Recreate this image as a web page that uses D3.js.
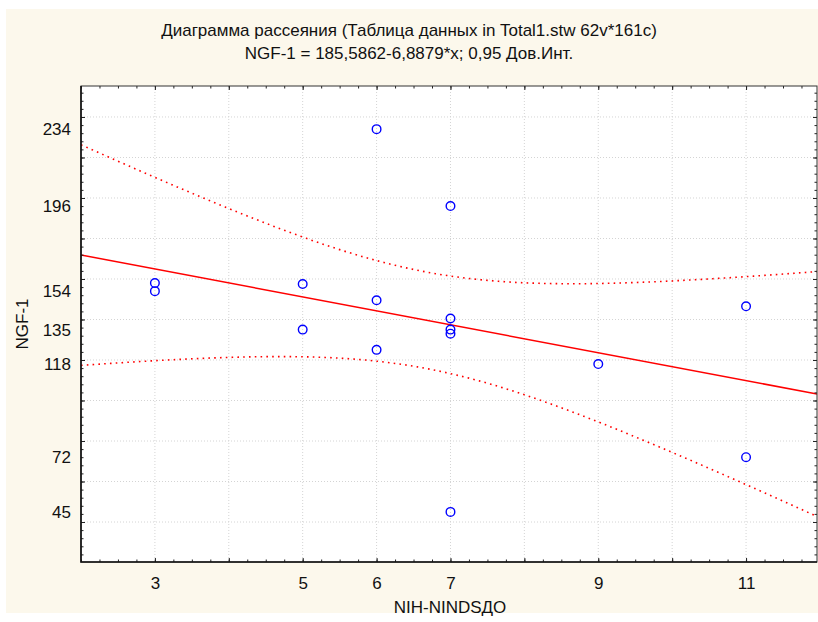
<!DOCTYPE html>
<html>
<head>
<meta charset="utf-8">
<script src="https://cdn.jsdelivr.net/npm/d3@7"></script>
<style>
  body { margin: 0; background: #fff; }
  svg { display: block; font-family: "Liberation Sans", Arial, sans-serif; }
</style>
</head>
<body>
<svg id="chart" width="818" height="622"></svg>
<script>
// chart data
const nihScore = [3, 3, 5, 5, 6, 6, 6, 7, 7, 7, 7, 7, 9, 11, 11];
const ngfValue = [158, 154, 157.5, 135, 234, 149.5, 125, 196, 140.5, 135, 133, 45, 118, 146.5, 72];
const yTickLabels = [234, 196, 154, 135, 118, 72, 45];
const xTickLabels = [3, 5, 6, 7, 9, 11];
const intercept = 185.5862;
const slope = -6.8879;
const tCrit = 2.1604; // t(0.975, df = 13)

const titleLines = [
  'Диаграмма рассеяния (Таблица данных in Total1.stw 62v*161c)',
  'NGF-1 = 185,5862-6,8879*x; 0,95 Дов.Инт.'
];

const FONT = 17;
const svg = d3.select('#chart');
const plot = { left: 81, right: 817, top: 86, bottom: 562 };

// cream panel behind everything
svg.append('rect')
  .attr('x', 6).attr('y', 9)
  .attr('width', 812).attr('height', 604)
  .attr('fill', '#fcf8ec');

svg.append('rect')
  .attr('x', plot.left).attr('y', plot.top)
  .attr('width', plot.right - plot.left).attr('height', plot.bottom - plot.top)
  .attr('fill', '#fff');

const x = d3.scaleLinear().domain([2, 11.96]).range([plot.left, plot.right]);
const y = d3.scaleLinear().domain([20.25, 255.3]).range([plot.bottom, plot.top]);

const xMajor = d3.range(3, 12, 1);
const xMinor = d3.range(2, 11.96, 0.25);
const yMajor = d3.range(40, 256, 20);
const yMinor = d3.range(24, 256, 4);

// dotted grid
const grid = svg.append('g').attr('stroke', '#d4d4d4').attr('stroke-dasharray', '1,2');
grid.selectAll('.gx').data(xMajor).join('line')
  .attr('x1', d => x(d)).attr('x2', d => x(d))
  .attr('y1', plot.top).attr('y2', plot.bottom);
grid.selectAll('.gy').data(yMajor).join('line')
  .attr('x1', plot.left).attr('x2', plot.right)
  .attr('y1', d => y(d)).attr('y2', d => y(d));

// clip for fitted lines
svg.append('clipPath').attr('id', 'clip')
  .append('rect')
  .attr('x', plot.left).attr('y', plot.top)
  .attr('width', plot.right - plot.left).attr('height', plot.bottom - plot.top);

// regression line and 95% confidence band computed from the points
const n = nihScore.length;
const xMean = d3.mean(nihScore);
const sxx = d3.sum(nihScore, v => (v - xMean) ** 2);
const sse = d3.sum(nihScore, (v, i) => (ngfValue[i] - (intercept + slope * v)) ** 2);
const s = Math.sqrt(sse / (n - 2));
const band = v => tCrit * s * Math.sqrt(1 / n + (v - xMean) ** 2 / sxx);

const xs = d3.range(x.domain()[0], x.domain()[1] + 0.05, 0.05);
const fitLine = d3.line().x(d => x(d[0])).y(d => y(d[1]));

const fits = svg.append('g').attr('clip-path', 'url(#clip)').attr('fill', 'none').attr('stroke', '#ff0000');
fits.append('path')
  .attr('d', fitLine(x.domain().map(v => [v, intercept + slope * v])))
  .attr('stroke-width', 1.5);
fits.append('path')
  .attr('d', fitLine(xs.map(v => [v, intercept + slope * v + band(v)])))
  .attr('stroke-width', 1.6).attr('stroke-dasharray', '1.6,4.2');
fits.append('path')
  .attr('d', fitLine(xs.map(v => [v, intercept + slope * v - band(v)])))
  .attr('stroke-width', 1.6).attr('stroke-dasharray', '1.6,4.2');

// points
svg.append('g').selectAll('circle').data(nihScore).join('circle')
  .attr('cx', d => x(d))
  .attr('cy', (d, i) => y(ngfValue[i]))
  .attr('r', 4.3)
  .attr('fill', 'none')
  .attr('stroke', '#0000ff')
  .attr('stroke-width', 1.4);

// frame ticks (pointing inward) on all four sides
function tickAxis(makeAxis, scale, transform, major, minor) {
  [[major, 4], [minor, 2.5]].forEach(([vals, len]) => {
    const g = svg.append('g').attr('transform', transform)
      .call(makeAxis(scale).tickValues(vals).tickSize(len).tickFormat(''));
    g.select('.domain').remove();
    g.selectAll('.tick line').attr('stroke', '#222');
  });
}
tickAxis(d3.axisTop, x, `translate(0,${plot.bottom})`, xMajor, xMinor);
tickAxis(d3.axisBottom, x, `translate(0,${plot.top})`, xMajor, xMinor);
tickAxis(d3.axisRight, y, `translate(${plot.left},0)`, yMajor, yMinor);
tickAxis(d3.axisLeft, y, `translate(${plot.right},0)`, yMajor, yMinor);

// frame
svg.append('rect')
  .attr('x', plot.left).attr('y', plot.top)
  .attr('width', plot.right - plot.left).attr('height', plot.bottom - plot.top)
  .attr('fill', 'none').attr('stroke', '#333').attr('stroke-width', 1);
svg.append('path')
  .attr('d', `M${plot.left},${plot.top}V${plot.bottom}H${plot.right}`)
  .attr('fill', 'none').attr('stroke', '#111').attr('stroke-width', 1.6);

// tick labels
const yLab = svg.append('g')
  .attr('transform', `translate(${plot.left - 10},0)`)
  .call(d3.axisLeft(y).tickValues(yTickLabels).tickSize(0).tickPadding(0).tickFormat(d3.format('d')));
yLab.select('.domain').remove();
yLab.selectAll('text').attr('font-size', FONT).attr('fill', '#111').attr('font-family', 'Liberation Sans, Arial, sans-serif');

const xLab = svg.append('g')
  .attr('transform', `translate(0,${plot.bottom + 15})`)
  .call(d3.axisBottom(x).tickValues(xTickLabels).tickSize(0).tickPadding(0).tickFormat(d3.format('d')));
xLab.select('.domain').remove();
xLab.selectAll('text').attr('font-size', FONT).attr('fill', '#111').attr('font-family', 'Liberation Sans, Arial, sans-serif');

// titles
svg.append('g').selectAll('text').data(titleLines).join('text')
  .attr('x', 409)
  .attr('y', (d, i) => 36 + i * 23)
  .attr('text-anchor', 'middle')
  .attr('font-size', FONT)
  .attr('fill', '#111')
  .text(d => d);

svg.append('text')
  .attr('x', 450).attr('y', 613)
  .attr('text-anchor', 'middle')
  .attr('font-size', FONT).attr('fill', '#111')
  .text('NIH-NINDSДО');

svg.append('text')
  .attr('transform', `translate(28,${(plot.top + plot.bottom) / 2}) rotate(-90)`)
  .attr('text-anchor', 'middle')
  .attr('font-size', FONT).attr('fill', '#111')
  .text('NGF-1');
</script>
</body>
</html>
